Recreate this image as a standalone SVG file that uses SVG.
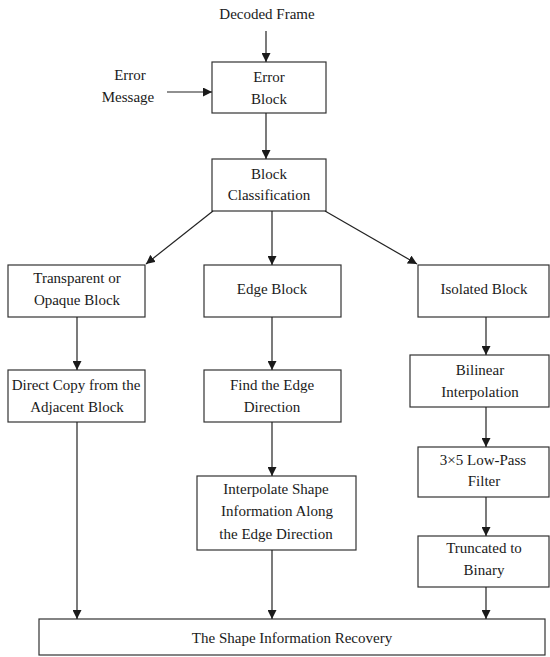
<svg xmlns="http://www.w3.org/2000/svg" width="550" height="657" viewBox="0 0 550 657">
<style>
rect{fill:#fff;stroke:#333;stroke-width:1.2}
text{font-family:'Liberation Serif','Times New Roman','DejaVu Serif',serif;font-size:15px;fill:#1a1a1a;text-anchor:middle}
.c line{stroke:#222;stroke-width:1.2;marker-end:url(#arr)}
</style>
<defs>
<marker id="arr" markerUnits="userSpaceOnUse" markerWidth="9" markerHeight="9" refX="9" refY="4.5" orient="auto">
<path d="M0,0 L9,4.5 L0,9 z" fill="#1a1a1a"/>
</marker>
</defs>
<rect x="0" y="0" width="550" height="657" style="fill:#fff;stroke:none"/>
<g font-family="Liberation Serif, Times New Roman, serif">
<g id="decoded-frame"><text x="267" y="19">Decoded Frame</text></g>
<g id="error-message"><text x="130" y="80">Error</text><text x="128" y="102">Message</text></g>
<g id="error-block"><rect x="212" y="62" width="114" height="51"/><text x="269" y="82">Error</text><text x="269" y="104">Block</text></g>
<g id="block-classification"><rect x="212" y="159" width="114" height="52"/><text x="269" y="179">Block</text><text x="269" y="200">Classification</text></g>
<g id="transparent"><rect x="8" y="265" width="137" height="52"/><text x="77" y="283">Transparent or</text><text x="77" y="305">Opaque Block</text></g>
<g id="edge-block"><rect x="204" y="265" width="137" height="52"/><text x="272" y="294">Edge Block</text></g>
<g id="isolated-block"><rect x="418" y="265" width="131" height="52"/><text x="484" y="294">Isolated Block</text></g>
<g id="direct-copy"><rect x="8" y="370" width="137" height="52"/><text x="76" y="390">Direct Copy from the</text><text x="77" y="412">Adjacent Block</text></g>
<g id="find-edge"><rect x="204" y="370" width="137" height="52"/><text x="272" y="390">Find the Edge</text><text x="272" y="412">Direction</text></g>
<g id="bilinear"><rect x="410" y="355" width="139" height="52"/><text x="480" y="375">Bilinear</text><text x="480" y="397">Interpolation</text></g>
<g id="interpolate"><rect x="197" y="476" width="159" height="74"/><text x="276" y="494">Interpolate Shape</text><text x="277" y="516">Information Along</text><text x="276" y="539">the Edge Direction</text></g>
<g id="lowpass"><rect x="418" y="447" width="131" height="50"/><text x="483" y="465">3×5 Low-Pass</text><text x="484" y="486">Filter</text></g>
<g id="truncated"><rect x="418" y="536" width="131" height="51"/><text x="484" y="553">Truncated to</text><text x="484" y="575">Binary</text></g>
<g id="recovery"><rect x="39" y="619" width="506" height="36"/><text x="292" y="643">The Shape Information Recovery</text></g>
</g>
<g class="c" id="connectors">
<line x1="266" y1="31" x2="266" y2="62"/>
<line x1="167" y1="92" x2="212" y2="92"/>
<line x1="266" y1="113" x2="266" y2="159"/>
<line x1="213" y1="211" x2="146" y2="264"/>
<line x1="272" y1="211" x2="272" y2="265"/>
<line x1="325" y1="211" x2="417" y2="264"/>
<line x1="77" y1="317" x2="77" y2="370"/>
<line x1="272" y1="317" x2="272" y2="370"/>
<line x1="486" y1="317" x2="486" y2="355"/>
<line x1="486" y1="407" x2="486" y2="447"/>
<line x1="486" y1="497" x2="486" y2="536"/>
<line x1="486" y1="587" x2="486" y2="619"/>
<line x1="77" y1="422" x2="77" y2="619"/>
<line x1="272" y1="422" x2="272" y2="476"/>
<line x1="272" y1="550" x2="272" y2="619"/>
</g>
</svg>
